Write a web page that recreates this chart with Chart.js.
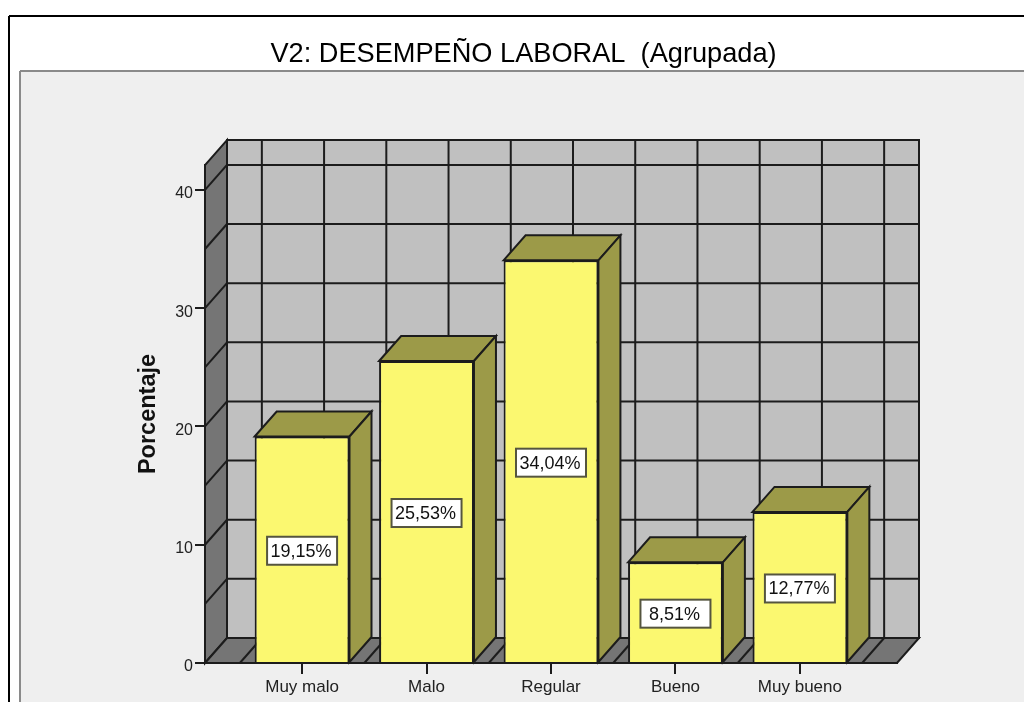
<!DOCTYPE html>
<html>
<head>
<meta charset="utf-8">
<title>V2: DESEMPEÑO LABORAL (Agrupada)</title>
<script src="https://cdn.jsdelivr.net/npm/chart.js@4"></script>
<style>
  html, body { margin: 0; padding: 0; background: #fff; }
  #wrap { width: 1024px; height: 702px; overflow: hidden; }
</style>
</head>
<body>
<div id="wrap"><canvas id="chart" width="1024" height="702"></canvas></div>
<script>
const titleText = 'V2: DESEMPEÑO LABORAL  (Agrupada)';
const yTitle = 'Porcentaje';
const categories = ['Muy malo', 'Malo', 'Regular', 'Bueno', 'Muy bueno'];
const percentages = [19.15, 25.53, 34.04, 8.51, 12.77];
const yTicks = [0, 10, 20, 30, 40];
const gridSteps = [5, 10, 15, 20, 25, 30, 35, 40];

const FONT = '"Liberation Sans", Arial, sans-serif';
const LINE = '#1c1c1c';
const DX = 22, DY = -25; // 3d depth of the box

function poly(ctx, pts, fill) {
  ctx.beginPath();
  pts.forEach((p, i) => i ? ctx.lineTo(p[0], p[1]) : ctx.moveTo(p[0], p[1]));
  ctx.closePath();
  if (fill) { ctx.fillStyle = fill; ctx.fill(); }
  ctx.stroke();
}

function seg(ctx, x1, y1, x2, y2) {
  ctx.beginPath();
  ctx.moveTo(x1, y1);
  ctx.lineTo(x2, y2);
  ctx.stroke();
}

// page frame and grey panel
const framePlugin = {
  id: 'frame',
  beforeDraw(chart) {
    const ctx = chart.ctx;
    ctx.save();
    ctx.fillStyle = '#efefef';
    ctx.fillRect(20, 71, 1004, 631);
    ctx.strokeStyle = '#8a8a8a';
    ctx.lineWidth = 2;
    seg(ctx, 20, 71, 1024, 71);
    seg(ctx, 20, 71, 20, 702);
    ctx.strokeStyle = '#000';
    seg(ctx, 9, 16, 1024, 16);
    seg(ctx, 9, 16, 9, 702);
    ctx.restore();
  }
};

// back wall, side wall and floor
const wallsPlugin = {
  id: 'walls',
  beforeDatasetsDraw(chart) {
    const { ctx, scales: { x, y }, chartArea: a } = chart;
    ctx.save();
    ctx.strokeStyle = LINE;
    ctx.lineWidth = 2;
    poly(ctx, [[a.left + DX, a.top + DY], [a.right + DX, a.top + DY], [a.right + DX, a.bottom + DY], [a.left + DX, a.bottom + DY]], '#c0c0c0');
    poly(ctx, [[a.left, a.top], [a.left + DX, a.top + DY], [a.left + DX, a.bottom + DY], [a.left, a.bottom]], '#757575');
    poly(ctx, [[a.left, a.bottom], [a.left + DX, a.bottom + DY], [a.right + DX, a.bottom + DY], [a.right, a.bottom]], '#757575');
    gridSteps.forEach(v => {
      const py = y.getPixelForValue(v);
      seg(ctx, a.left, py, a.left + DX, py + DY);
      seg(ctx, a.left + DX, py + DY, a.right + DX, py + DY);
    });
    for (let i = -0.5; i <= categories.length - 0.5; i += 0.5) {
      const px = x.getPixelForValue(i);
      seg(ctx, px, a.bottom, px + DX, a.bottom + DY);
      seg(ctx, px + DX, a.bottom + DY, px + DX, a.top + DY);
    }
    // top and side faces of the bars
    chart.getDatasetMeta(0).data.forEach(bar => {
      const l = bar.x - bar.width / 2, r = bar.x + bar.width / 2;
      poly(ctx, [[l, bar.y], [l + DX, bar.y + DY], [r + DX, bar.y + DY], [r, bar.y]], '#9c9a48');
      poly(ctx, [[r, bar.y], [r + DX, bar.y + DY], [r + DX, bar.base + DY], [r, bar.base]], '#9c9a48');
    });
    ctx.restore();
  }
};

// white value boxes in the middle of each bar
const boxLabelsPlugin = {
  id: 'boxLabels',
  afterDatasetsDraw(chart) {
    const ctx = chart.ctx;
    ctx.save();
    ctx.font = '18px ' + FONT;
    ctx.textAlign = 'center';
    ctx.textBaseline = 'middle';
    chart.getDatasetMeta(0).data.forEach((bar, i) => {
      const my = (bar.y + bar.base) / 2 + 1.5;
      ctx.fillStyle = '#fff';
      ctx.strokeStyle = '#55553f';
      ctx.lineWidth = 2;
      ctx.fillRect(bar.x - 35, my - 14, 70, 28);
      ctx.strokeRect(bar.x - 35, my - 14, 70, 28);
      ctx.fillStyle = '#111';
      ctx.fillText(percentages[i].toFixed(2).replace('.', ',') + '%', bar.x - 1, my + 1);
    });
    ctx.restore();
  }
};

// title sits over the panel centre, not the plot centre
const titleShift = {
  id: 'titleShift',
  afterLayout(chart) {
    const t = chart.titleBlock;
    const d = 523.5 - (t.left + t.right) / 2;
    t.left += d;
    t.right += d;
  }
};

new Chart(document.getElementById('chart'), {
  type: 'bar',
  data: {
    datasets: [{
      data: percentages.map((v, i) => ({ x: i, y: v })),
      backgroundColor: '#fbf870',
      borderColor: LINE,
      borderWidth: 2,
      barPercentage: 0.762,
      categoryPercentage: 1
    }]
  },
  plugins: [framePlugin, wallsPlugin, boxLabelsPlugin, titleShift],
  options: {
    responsive: false,
    animation: false,
    layout: { autoPadding: false, padding: { left: 0, right: 127, top: 0, bottom: 0 } },
    plugins: {
      legend: { display: false },
      tooltip: { enabled: false },
      title: {
        display: true,
        text: titleText,
        color: '#000',
        font: { family: FONT, size: 27.2, weight: 'normal', lineHeight: 1.2 },
        padding: { top: 38, bottom: 94.4 }
      }
    },
    scales: {
      x: {
        type: 'linear',
        offset: false,
        min: -0.78,
        max: 4.78,
        afterBuildTicks: s => { s.ticks = categories.map((c, i) => ({ value: i })); },
        afterFit: s => { s.height = 39; },
        border: { display: true, color: LINE, width: 2 },
        grid: { offset: false, drawOnChartArea: false, drawTicks: true, tickLength: 11, color: LINE, lineWidth: 2 },
        ticks: {
          autoSkip: false,
          maxRotation: 0,
          padding: 3,
          color: '#222',
          font: { family: FONT, size: 17 },
          callback: v => categories[v]
        }
      },
      y: {
        min: 0,
        max: 42.1,
        afterBuildTicks: s => { s.ticks = yTicks.map(v => ({ value: v })); },
        afterFit: s => { s.width = 205; },
        border: { display: true, color: LINE, width: 2 },
        grid: { drawOnChartArea: false, drawTicks: true, tickLength: 10, color: LINE, lineWidth: 2 },
        ticks: {
          padding: 2,
          labelOffset: 4,
          color: '#222',
          font: { family: FONT, size: 16 }
        },
        title: {
          display: true,
          text: yTitle,
          color: '#111',
          font: { family: FONT, size: 23.5, weight: 'bold', lineHeight: 1.2 },
          padding: { top: 134, bottom: 0 }
        }
      }
    }
  }
});
</script>
</body>
</html>
